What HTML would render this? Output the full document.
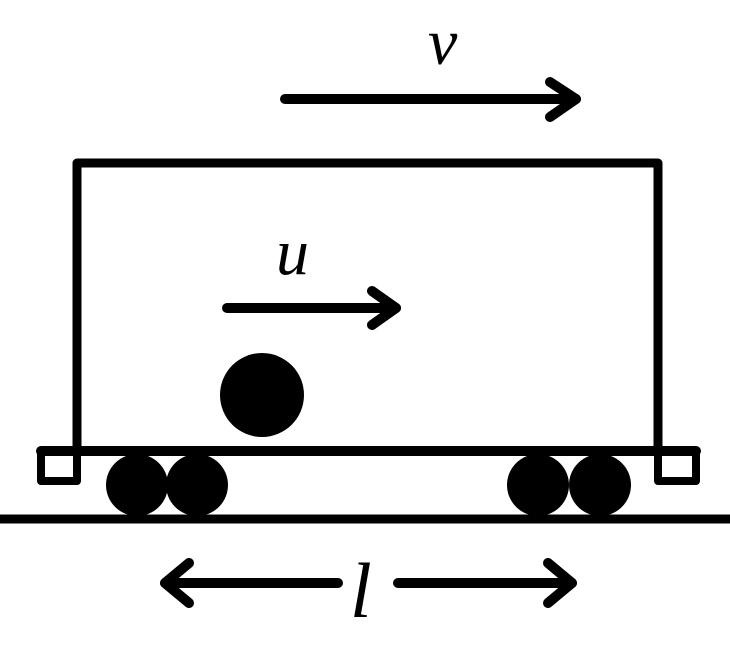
<!DOCTYPE html>
<html><head><meta charset="utf-8"><style>
html,body{margin:0;padding:0;background:#fff;}
svg{display:block;}
text{font-family:"Liberation Serif",serif;font-style:italic;fill:#000;}
</style></head><body>
<svg width="730" height="654" viewBox="0 0 730 654">
<g stroke="#000" stroke-width="10" stroke-linecap="round" stroke-linejoin="round" fill="none">
  <g>
    <line x1="285" y1="99" x2="576" y2="99"/>
    <polyline points="550,82 576,99 550,117"/>
  </g>
  <path d="M77,450 L77,163 L658,163 L658,450" stroke-width="9" stroke-linecap="butt"/>
  <line x1="41" y1="451" x2="696" y2="451" stroke-width="10"/>
  <rect x="41" y="451" width="36" height="30" stroke-width="8"/>
  <rect x="658" y="451" width="38" height="30" stroke-width="8"/>
  <g>
    <line x1="227" y1="308" x2="396" y2="308"/>
    <polyline points="372,291 396,308 372,325"/>
  </g>
  <line x1="0" y1="519" x2="730" y2="519" stroke-width="9" stroke-linecap="butt"/>
  <g>
    <line x1="165" y1="583" x2="338" y2="583"/>
    <polyline points="189,563 165,583 189,603"/>
    <line x1="398" y1="583" x2="572" y2="583"/>
    <polyline points="548,563 572,583 548,603"/>
  </g>
</g>
<circle cx="262" cy="395" r="42" fill="#000"/>
<g fill="#000">
  <circle cx="137" cy="485" r="31"/>
  <circle cx="197" cy="485" r="31"/>
  <circle cx="538" cy="485" r="31"/>
  <circle cx="600" cy="485" r="31"/>
</g>
<text x="428" y="64" font-size="66">v</text>
<text x="276" y="274" font-size="66">u</text>
<text x="350" y="617" font-size="78">l</text>
</svg>
</body></html>
